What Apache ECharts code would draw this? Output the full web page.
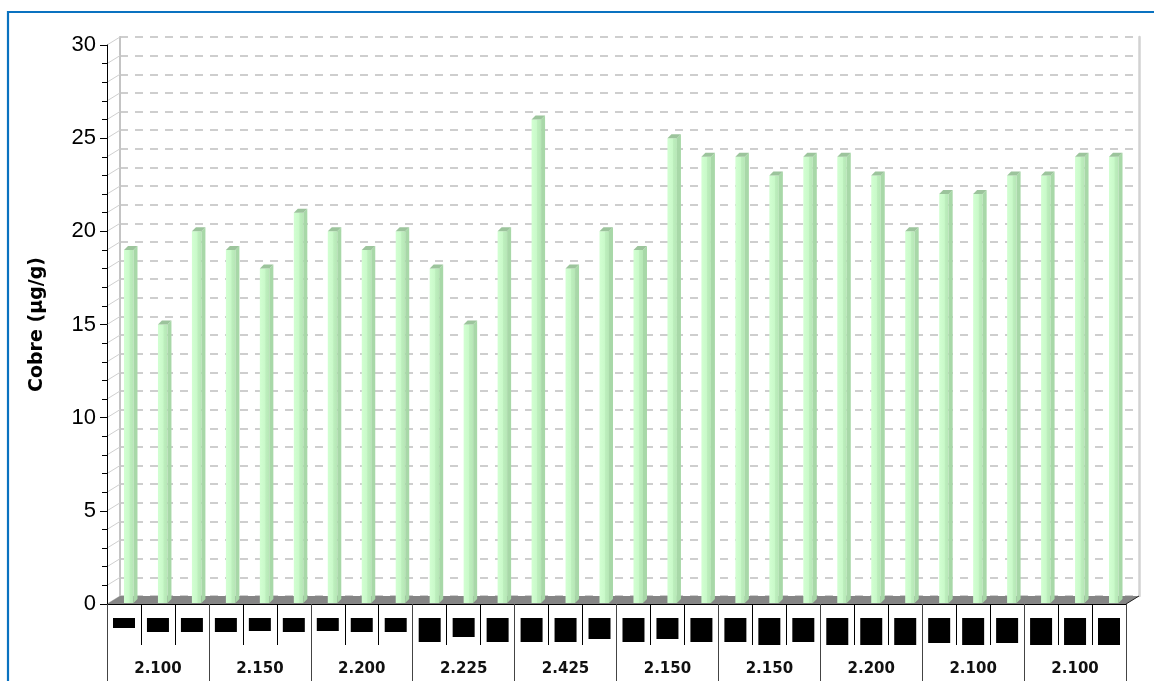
<!DOCTYPE html>
<html>
<head>
<meta charset="utf-8">
<title>Cobre</title>
<script src="https://cdn.jsdelivr.net/npm/echarts@6/dist/echarts.min.js"></script>
<style>
  html, body { margin: 0; padding: 0; background: #ffffff; }
  #chart { width: 1154px; height: 681px; }
</style>
</head>
<body>
<div id="chart"></div>
<script>
// Copper content per sample, grouped by the value shown on the outer axis row
const groupLabels = ['2.100', '2.150', '2.200', '2.225', '2.425', '2.150', '2.150', '2.200', '2.100', '2.100'];
const sampleIds = [
  'S01', 'S02', 'S03', 'S04', 'S05', 'S06', 'S07', 'S08', 'S09', 'S10',
  'S11', 'S12', 'S13', 'S14', 'S15', 'S16', 'S17', 'S18', 'S19', 'S20',
  'S21', 'S22', 'S23', 'S24', 'S25', 'S26', 'S27', 'S28', 'S29', 'S30'
];
const copper = [19, 15, 20, 19, 18, 21, 20, 19, 20, 18, 15, 20, 26, 18, 20, 19, 25, 24, 24, 23, 24, 24, 23, 20, 22, 22, 23, 23, 24, 24];
const yTicks = { min: 0, max: 30, step: 5 };

// Height (px) of the blacked-out sample tag under each bar
const tagHeights = [10, 14, 14, 14, 13, 14, 13, 14, 14, 24, 19, 24, 24, 24, 21, 24, 21, 24, 24, 27, 24, 27, 27, 27, 25, 27, 25, 27, 27, 27];

// Pseudo-3D depth of the plot box
const DEPTH_X = 13, DEPTH_Y = 8;
const BAR_W = 9.5, BAR_D = 4;

const chart = echarts.init(document.getElementById('chart'), null, { renderer: 'canvas' });

const tagRich = {};
tagHeights.forEach(function (h) {
  tagRich['t' + h] = { width: 22, height: h, lineHeight: h, backgroundColor: '#000000', fontSize: 1 };
});

const barFront = new echarts.graphic.LinearGradient(0, 0, 1, 0, [
  { offset: 0, color: '#d2ffd2' },
  { offset: 0.55, color: '#c9f9c9' },
  { offset: 0.62, color: '#bdefbd' },
  { offset: 1, color: '#b6e6b6' }
]);

const option = {
  backgroundColor: '#ffffff',
  animation: false,
  graphic: [{
    type: 'rect',
    shape: { x: 8, y: 12, width: 1200, height: 700 },
    style: { fill: 'none', stroke: '#0a72c0', lineWidth: 2.2 },
    z: 10
  }],
  grid: [
    { left: 107, right: 28, top: 45, bottom: 77, containLabel: false },
    { left: 107 + DEPTH_X, right: 28 - DEPTH_X, top: 45 - DEPTH_Y, bottom: 77 + DEPTH_Y, containLabel: false }
  ],
  xAxis: [
    {
      type: 'category', gridIndex: 0, data: sampleIds, position: 'bottom', z: 1,
      axisLine: { show: true, lineStyle: { color: '#000000', width: 1 } },
      axisTick: { show: true, length: 41, lineStyle: { color: '#000000', width: 1 } },
      axisLabel: {
        show: true, interval: 0, margin: 14,
        formatter: function (val, idx) { return '{t' + tagHeights[idx] + '| }'; },
        rich: tagRich
      }
    },
    {
      type: 'category', gridIndex: 0, data: groupLabels, position: 'bottom', z: 1,
      axisLine: { show: false },
      axisTick: { show: true, length: 77, lineStyle: { color: '#444444', width: 1 } },
      axisLabel: {
        show: true, interval: 0, margin: 58,
        fontFamily: 'DejaVu Sans', fontWeight: 'bold', fontSize: 15, color: '#111111'
      }
    },
    {
      type: 'category', gridIndex: 1, data: sampleIds, show: false
    }
  ],
  yAxis: [
    {
      type: 'value', gridIndex: 0, min: yTicks.min, max: yTicks.max, interval: yTicks.step, z: 1,
      name: 'Cobre (µg/g)', nameLocation: 'middle', nameGap: 60, nameRotate: 90,
      nameTextStyle: { fontFamily: 'DejaVu Sans', fontWeight: 'bold', fontSize: 19, color: '#000000' },
      axisLine: { show: true, lineStyle: { color: '#000000', width: 1 } },
      axisTick: { show: true, length: 7, lineStyle: { color: '#000000', width: 1 } },
      minorTick: { show: true, splitNumber: 5, length: 5, lineStyle: { color: '#000000', width: 1 } },
      axisLabel: { margin: 11, fontFamily: 'Liberation Sans', fontSize: 22, color: '#000000' },
      splitLine: { show: false }
    },
    {
      type: 'value', gridIndex: 1, min: yTicks.min, max: yTicks.max, interval: 1, position: 'left', z: -2,
      axisLine: { show: true, lineStyle: { color: '#c4c4c4', width: 2 } },
      axisTick: { show: false }, axisLabel: { show: false },
      splitLine: { show: true, lineStyle: { color: '#bfbfbf', width: 1.5, type: [8, 7] } }
    },
    {
      type: 'value', gridIndex: 1, min: yTicks.min, max: yTicks.max, interval: 1, position: 'right', z: -2,
      axisLine: { show: true, lineStyle: { color: '#d2d2d2', width: 2.5 } },
      axisTick: { show: false }, axisLabel: { show: false }, splitLine: { show: false }
    }
  ],
  series: [
    {
      // floor slab and the side-wall tick connectors
      type: 'custom', xAxisIndex: 0, yAxisIndex: 0, z: -1, silent: true, clip: false,
      data: [[0, 0]],
      renderItem: function (params, api) {
        const cs = params.coordSys;
        const L = cs.x, R = cs.x + cs.width;
        const y0 = api.coord([0, yTicks.min])[1];
        const children = [];
        for (let v = yTicks.min; v <= yTicks.max; v += 1) {
          const y = api.coord([0, v])[1];
          children.push({
            type: 'line',
            shape: { x1: L, y1: y, x2: L + DEPTH_X, y2: y - DEPTH_Y },
            style: { stroke: '#cfcfcf', lineWidth: 1 }
          });
        }
        children.push({
          type: 'polygon',
          shape: { points: [[L, y0], [R, y0], [R + DEPTH_X, y0 - DEPTH_Y], [L + DEPTH_X, y0 - DEPTH_Y]] },
          style: { fill: '#858585' }
        });
        children.push({
          type: 'line',
          shape: { x1: R, y1: y0, x2: R + DEPTH_X, y2: y0 - DEPTH_Y },
          style: { stroke: '#222222', lineWidth: 1 }
        });
        return { type: 'group', children: children };
      }
    },
    {
      name: 'Cobre', type: 'custom', xAxisIndex: 0, yAxisIndex: 0, z: 3, clip: false,
      data: copper.map(function (v, i) { return [i, v]; }),
      renderItem: function (params, api) {
        const i = api.value(0), v = api.value(1);
        const base = api.coord([i, 0]);
        const top = api.coord([i, v]);
        const x = base[0], y0 = base[1] - 1, y1 = top[1];
        return {
          type: 'group',
          children: [
            { type: 'rect', shape: { x: x, y: y1, width: BAR_W, height: y0 - y1 }, style: { fill: barFront } },
            { type: 'polygon', shape: { points: [[x + BAR_W, y1], [x + BAR_W + BAR_D, y1 - BAR_D], [x + BAR_W + BAR_D, y0 - BAR_D], [x + BAR_W, y0]] }, style: { fill: '#a8d8a8' } },
            { type: 'polygon', shape: { points: [[x, y1], [x + BAR_D, y1 - BAR_D], [x + BAR_W + BAR_D, y1 - BAR_D], [x + BAR_W, y1]] }, style: { fill: '#9cc49c' } }
          ]
        };
      }
    }
  ]
};

chart.setOption(option);
</script>
</body>
</html>
